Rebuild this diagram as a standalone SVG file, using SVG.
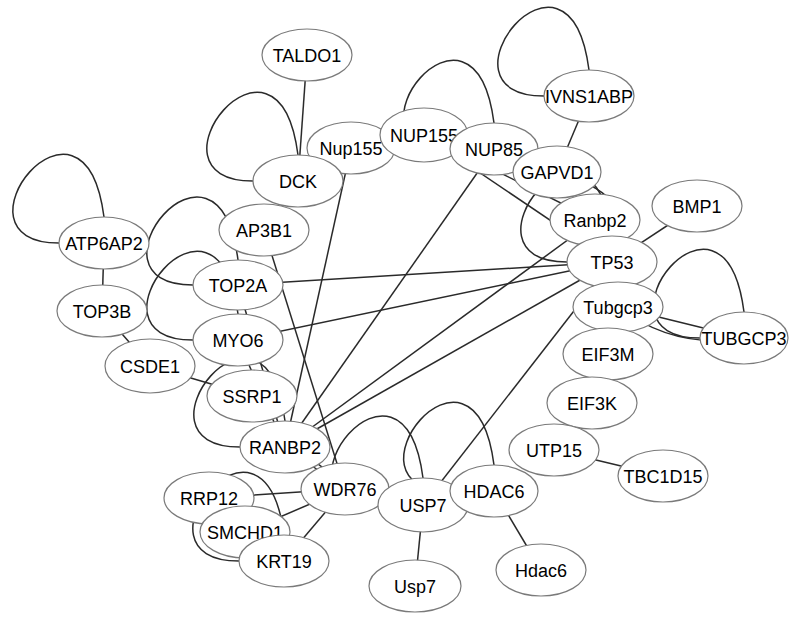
<svg xmlns="http://www.w3.org/2000/svg" width="793" height="623" viewBox="0 0 793 623">
<style>
.e{fill:none;stroke:#2a2a2a;stroke-width:1.5}
.n ellipse{fill:#fff;stroke:#7a7a7a;stroke-width:1.2}
.n text{font-family:"Liberation Sans",Arial,Helvetica,sans-serif;font-size:18px;fill:#000;text-anchor:middle}
</style>
<rect width="793" height="623" fill="#fff"/>
<g id="connectors">
<path class="e" d="M307,55 L298,181"/>
<path class="e" d="M351,148 L285,447"/>
<path class="e" d="M494,149 L285,447"/>
<path class="e" d="M424,135 L595,220"/>
<path class="e" d="M424,135 L612,262"/>
<path class="e" d="M589,96 L557,172"/>
<path class="e" d="M557,172 Q650,200 612,262"/>
<path class="e" d="M697,206 L612,262"/>
<path class="e" d="M612,262 L238,285"/>
<path class="e" d="M612,262 L238,340"/>
<path class="e" d="M612,262 L285,447"/>
<path class="e" d="M595,220 L285,447"/>
<path class="e" d="M612,262 L423,505"/>
<path class="e" d="M618,307 L744,338"/>
<path class="e" d="M618,307 Q675,350 744,338"/>
<path class="e" d="M264,230 L345,489"/>
<path class="e" d="M104,243 L102,311"/>
<path class="e" d="M102,311 L150,366"/>
<path class="e" d="M150,366 L252,396"/>
<path class="e" d="M238,285 L285,447"/>
<path class="e" d="M238,340 L285,447"/>
<path class="e" d="M285,447 L345,489"/>
<path class="e" d="M285,447 Q321,460 345,489"/>
<path class="e" d="M345,489 L209,498"/>
<path class="e" d="M345,489 L245,532"/>
<path class="e" d="M345,489 L284,561"/>
<path class="e" d="M423,505 L415,586"/>
<path class="e" d="M494,491 L541,570"/>
<path class="e" d="M554,450 L663,476"/>
<path class="e" d="M253,181 C135,181 278,0 298,155"/>
<path class="e" d="M450,149 C332,149 474,-32 494,123"/>
<path class="e" d="M544,96 C426,96 569,-85 589,70"/>
<path class="e" d="M59,243 C-59,243 84,62 104,217"/>
<path class="e" d="M193,285 C75,285 218,105 238,260"/>
<path class="e" d="M193,340 C75,340 218,159 238,314"/>
<path class="e" d="M240,447 C122,447 265,266 285,421"/>
<path class="e" d="M567,262 C449,262 592,81 612,236"/>
<path class="e" d="M700,338 C582,338 724,157 744,312"/>
<path class="e" d="M378,505 C260,505 403,324 423,478"/>
<path class="e" d="M450,491 C332,491 474,310 494,465"/>
<path class="e" d="M239,561 C121,561 264,380 284,535"/>
</g>
<g id="TALDO1" class="n"><ellipse cx="307" cy="55" rx="45" ry="26"/><text x="307" y="61.5">TALDO1</text></g>
<g id="Nup155" class="n"><ellipse cx="351" cy="148" rx="44" ry="26"/><text x="351" y="154.5">Nup155</text></g>
<g id="NUP155" class="n"><ellipse cx="424" cy="135" rx="44" ry="27"/><text x="424" y="141.5">NUP155</text></g>
<g id="NUP85" class="n"><ellipse cx="494" cy="149" rx="44" ry="26"/><text x="494" y="155.5">NUP85</text></g>
<g id="DCK" class="n"><ellipse cx="298" cy="181" rx="45" ry="26"/><text x="298" y="187.5">DCK</text></g>
<g id="IVNS1ABP" class="n"><ellipse cx="589" cy="96" rx="45" ry="26"/><text x="589" y="102.5">IVNS1ABP</text></g>
<g id="GAPVD1" class="n"><ellipse cx="557" cy="172" rx="44" ry="26"/><text x="557" y="178.5">GAPVD1</text></g>
<g id="BMP1" class="n"><ellipse cx="697" cy="206" rx="45" ry="26"/><text x="697" y="212.5">BMP1</text></g>
<g id="Ranbp2" class="n"><ellipse cx="595" cy="220" rx="45" ry="26"/><text x="595" y="226.5">Ranbp2</text></g>
<g id="TP53" class="n"><ellipse cx="612" cy="262" rx="45" ry="26"/><text x="612" y="268.5">TP53</text></g>
<g id="Tubgcp3" class="n"><ellipse cx="618" cy="307" rx="45" ry="25"/><text x="618" y="313.5">Tubgcp3</text></g>
<g id="TUBGCP3" class="n"><ellipse cx="744" cy="338" rx="44" ry="26"/><text x="744" y="344.5">TUBGCP3</text></g>
<g id="EIF3M" class="n"><ellipse cx="608" cy="354" rx="45" ry="26"/><text x="608" y="360.5">EIF3M</text></g>
<g id="EIF3K" class="n"><ellipse cx="592" cy="403" rx="45" ry="26"/><text x="592" y="409.5">EIF3K</text></g>
<g id="UTP15" class="n"><ellipse cx="554" cy="450" rx="45" ry="26"/><text x="554" y="456.5">UTP15</text></g>
<g id="TBC1D15" class="n"><ellipse cx="663" cy="476" rx="45" ry="26"/><text x="663" y="482.5">TBC1D15</text></g>
<g id="ATP6AP2" class="n"><ellipse cx="104" cy="243" rx="45" ry="26"/><text x="104" y="249.5">ATP6AP2</text></g>
<g id="TOP3B" class="n"><ellipse cx="102" cy="311" rx="45" ry="26"/><text x="102" y="317.5">TOP3B</text></g>
<g id="CSDE1" class="n"><ellipse cx="150" cy="366" rx="45" ry="27"/><text x="150" y="372.5">CSDE1</text></g>
<g id="AP3B1" class="n"><ellipse cx="264" cy="230" rx="45" ry="26"/><text x="264" y="236.5">AP3B1</text></g>
<g id="TOP2A" class="n"><ellipse cx="238" cy="285" rx="45" ry="25"/><text x="238" y="291.5">TOP2A</text></g>
<g id="MYO6" class="n"><ellipse cx="238" cy="340" rx="45" ry="26"/><text x="238" y="346.5">MYO6</text></g>
<g id="SSRP1" class="n"><ellipse cx="252" cy="396" rx="45" ry="26"/><text x="252" y="402.5">SSRP1</text></g>
<g id="RANBP2" class="n"><ellipse cx="285" cy="447" rx="45" ry="26"/><text x="285" y="453.5">RANBP2</text></g>
<g id="WDR76" class="n"><ellipse cx="345" cy="489" rx="44" ry="26"/><text x="345" y="495.5">WDR76</text></g>
<g id="USP7" class="n"><ellipse cx="423" cy="505" rx="45" ry="27"/><text x="423" y="511.5">USP7</text></g>
<g id="HDAC6" class="n"><ellipse cx="494" cy="491" rx="44" ry="26"/><text x="494" y="497.5">HDAC6</text></g>
<g id="Usp7" class="n"><ellipse cx="415" cy="586" rx="46" ry="26"/><text x="415" y="592.5">Usp7</text></g>
<g id="Hdac6" class="n"><ellipse cx="541" cy="570" rx="45" ry="26"/><text x="541" y="576.5">Hdac6</text></g>
<g id="RRP12" class="n"><ellipse cx="209" cy="498" rx="45" ry="26"/><text x="209" y="504.5">RRP12</text></g>
<g id="SMCHD1" class="n"><ellipse cx="245" cy="532" rx="45" ry="26"/><text x="245" y="538.5">SMCHD1</text></g>
<g id="KRT19" class="n"><ellipse cx="284" cy="561" rx="45" ry="26"/><text x="284" y="567.5">KRT19</text></g>
</svg>
